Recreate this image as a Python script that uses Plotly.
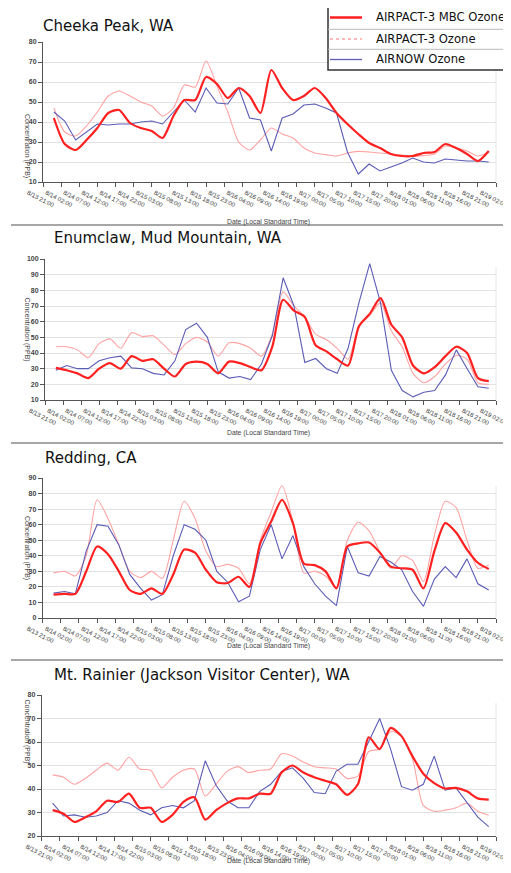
import pandas as pd
import plotly.graph_objects as go

W, H = 511, 873
# the page body keeps its default 8px margin, so the figure is drawn 8px in from the corner
OFF = 8
FW, FH = W - OFF, H - OFF

# hourly model/obs values sampled every 3 hours, 8/14 00:00 .. 8/19 00:00
times = pd.date_range("2012-08-14 00:00", periods=41, freq="3h")

stations = ["Cheeka Peak, WA", "Enumclaw, Mud Mountain, WA", "Redding, CA",
            "Mt. Rainier (Jackson Visitor Center), WA"]

cheeka_mbc = [42, 29, 26, 31, 37, 44.5, 46, 39.5, 37, 35.5, 32, 43, 51, 51, 62.5, 59, 52, 57, 53, 44.5,
              66, 57, 51, 53, 57, 52, 44.5, 39, 34, 29.5, 27, 24, 23, 23, 24.5, 25, 29, 27, 24, 20.5, 25.5]
cheeka_ap3 = [47, 35, 33, 38, 45, 53, 55.5, 53, 50, 48, 43, 47, 58.5, 57.5, 70.5, 58, 45, 30, 26, 31,
              37, 34, 32, 27, 24.5, 23.7, 23, 24.5, 25.3, 25, 24.5, 24, 23.5, 23, 23.2, 24, 28, 27, 25.5, 23, 25]
cheeka_airnow = [45, 40.5, 31, 35, 39, 38.5, 39, 39, 40, 40.5, 39, 45, 51, 45, 57, 49.5, 49, 57, 42, 41,
                 25.5, 42, 44, 48.5, 49, 47, 44.5, 25, 14, 19, 15.5, 17.5, 19.5, 22, 20, 19.5, 21.5, 21, 20.5, 20.5, 20]

enum_mbc = [30.5, 29, 27, 24, 30, 33.5, 30, 38, 35, 36, 30, 25, 33, 34.5, 33, 27, 34.5, 33.5, 31, 29,
            44, 74, 67, 63, 45, 41, 36, 32, 57, 65, 75, 58, 50, 32, 27, 31, 38, 44, 40, 24, 22]
enum_ap3 = [44, 44, 42, 37, 46, 49, 43, 53, 50.5, 51, 45, 39, 46, 50, 47, 38, 46.5, 46, 43, 38,
            52, 79, 70, 63, 52, 48.5, 43, 36, 57, 64, 72, 54, 44, 27, 21, 25, 33, 38.5, 36, 21, 20]
enum_airnow = [29, 32, 30, 30, 35, 37, 38, 30.5, 30, 27, 26, 35, 55, 59, 50, 28, 24, 25, 23, 33,
               51, 88, 70, 34, 36.5, 30, 27, 43, 72, 97, 72, 29, 16, 12, 15, 16, 26, 42, 30, 18.5, 17.5]

redding_mbc = [15, 15.5, 15.5, 30, 46, 41, 30, 18, 15.5, 19, 15.5, 28, 44, 42, 31, 23, 22.5, 26.5, 20, 48,
               62, 76, 61, 35, 34, 30, 19, 46, 48, 48.5, 42, 33, 32, 31, 19, 43, 61, 55, 44, 35.5, 31.5]
redding_ap3 = [29, 30, 27, 40, 76, 64, 47, 30, 26, 30, 25.5, 50, 75, 64, 43, 33, 34.5, 32, 22, 50,
               68, 85, 62, 29, 30, 27, 20, 50, 61.5, 56, 42.5, 32, 40, 37, 23.5, 53, 75, 71, 50, 32, 34]
redding_airnow = [16, 17, 15.5, 43, 60, 59, 47, 28, 19, 11.5, 15, 40, 60, 57, 50, 30, 23, 10.5, 14, 44,
                  60, 38, 53, 33, 22, 14, 8, 46, 29, 27, 39.5, 36, 31, 17, 7.5, 25, 33, 26, 38, 22, 18]

rainier_mbc = [31, 29.5, 26, 28, 30.5, 35, 34.5, 38, 32, 32, 26, 29, 34.5, 36.5, 27, 31, 34, 36, 36, 38,
               38, 47, 50, 47, 45, 43.5, 42, 37.5, 42, 62, 57, 66, 62.5, 54, 46.5, 42.5, 40.2, 40.5, 39, 36, 35.5]
rainier_ap3 = [46, 45, 42, 44.5, 48, 51, 48, 53.5, 48.5, 48, 40.5, 45, 48, 48.5, 37, 42, 47.5, 49.5, 47, 48,
               48.5, 55, 54, 51.5, 49.5, 49, 48.5, 44.5, 45.5, 56, 57, 64.5, 62.5, 53, 33, 30.5, 31, 32, 34, 30.5, 28.8]
rainier_airnow = [34, 28.5, 29, 28, 28.5, 30, 35, 34, 31, 29, 32, 33, 32, 35, 52, 41.5, 35, 32, 32, 39,
                  42, 47.5, 49, 44.5, 38.5, 38, 47.5, 50.5, 50.5, 60, 70, 57, 41, 39.5, 42, 54, 39.5, 40.5, 34, 28, 24]

series = [
    (cheeka_mbc, cheeka_ap3, cheeka_airnow),
    (enum_mbc, enum_ap3, enum_airnow),
    (redding_mbc, redding_ap3, redding_airnow),
    (rainier_mbc, rainier_ap3, rainier_airnow),
]
y_ranges = [(10, 80), (10, 100), (0, 90), (20, 80)]
legend_names = ["AIRPACT-3 MBC Ozone", "AIRPACT-3 Ozone", "AIRNOW Ozone"]

# pixel boxes (page coords) of each plot area: left, right, top, bottom
boxes = [(43, 496, 42, 182), (45, 496, 259, 400), (42.7, 496, 478, 618), (41.7, 496, 695, 836)]
title_pos = [(41, 26), (52, 238), (43, 458), (52, 675)]
xtitle_y = [216, 433, 652, 867]
separators = [(11, 328, 7), (11, 511, 225), (11, 511, 443), (11, 511, 660)]

RED = "#ff2020"
PINK = "#ffa3a3"
BLUE = "#5a5cb6"
AXIS = "#555555"


def px(x):
    return (x - OFF) / FW


def py(y):
    return 1 - (y - OFF) / FH


fig = go.Figure()
annotations = []
shapes = []

for i, (mbc, ap3, airnow) in enumerate(series):
    n = "" if i == 0 else str(i + 1)
    xa, ya = "x" + n, "y" + n
    fig.add_trace(go.Scatter(x=times, y=ap3, xaxis=xa, yaxis=ya, mode="lines",
                             line=dict(color=PINK, width=1.1, shape="spline", smoothing=0.7),
                             showlegend=False))
    fig.add_trace(go.Scatter(x=times, y=airnow, xaxis=xa, yaxis=ya, mode="lines",
                             line=dict(color=BLUE, width=1.1), showlegend=False))
    fig.add_trace(go.Scatter(x=times, y=mbc, xaxis=xa, yaxis=ya, mode="lines",
                             line=dict(color=RED, width=2.2, shape="spline", smoothing=0.7),
                             showlegend=False))

    l, r, t, b = boxes[i]
    fig.layout["xaxis" + n] = dict(
        domain=[px(l), px(r)], anchor=ya, type="date", automargin=False,
        range=["2012-08-13 21:00", "2012-08-19 02:00"],
        tick0="2012-08-13 21:00", dtick=5 * 3600 * 1000,
        tickformat="%-m/%d %H:%M", tickangle=27, ticklabelshift=-15,
        ticks="outside", ticklen=4, tickcolor=AXIS,
        showline=True, linecolor=AXIS, linewidth=1, showgrid=False,
        tickfont=dict(family="Liberation Sans", size=6.2, color="#3a3a3a"),
    )
    fig.layout["yaxis" + n] = dict(
        domain=[py(b), py(t)], anchor=xa, range=list(y_ranges[i]), dtick=10,
        automargin=False,
        ticks="outside", ticklen=4, tickcolor=AXIS,
        showline=True, linecolor=AXIS, linewidth=1,
        showgrid=True, gridcolor="#e2e2e2", zeroline=False,
        tickfont=dict(family="Liberation Sans", size=7, color="#444", weight="bold"),
    )

    tx, ty = title_pos[i]
    annotations.append(dict(text=stations[i], x=px(tx), y=py(ty), xref="paper", yref="paper",
                            xanchor="left", yanchor="middle", showarrow=False,
                            font=dict(family="DejaVu Sans", size=15, color="#111")))
    annotations.append(dict(text="Concentration (PPB)", x=px(21), y=py((t + b) / 2),
                            xref="paper", yref="paper", textangle=90, showarrow=False,
                            font=dict(family="Liberation Sans", size=7, color="#444")))
    annotations.append(dict(text="Date (Local Standard Time)", x=px(268), y=py(xtitle_y[i]),
                            xref="paper", yref="paper", showarrow=False,
                            font=dict(family="Liberation Sans", size=6.8, color="#444")))
    # faint right border of the plot area
    shapes.append(dict(type="line", xref="paper", yref="paper", x0=px(r), x1=px(r),
                       y0=py(b), y1=py(t + 8), line=dict(color="#e6e6e6", width=1)))

for x0, x1, y in separators:
    shapes.append(dict(type="line", xref="paper", yref="paper", x0=px(x0), x1=px(x1),
                       y0=py(y), y1=py(y), line=dict(color="#8a8a8a", width=1.6)))

# legend box drawn by hand (rows separated by thin rules)
shapes.append(dict(type="rect", xref="paper", yref="paper", x0=px(328), x1=px(510),
                   y0=py(70), y1=py(7), line=dict(color="#333", width=1.5), fillcolor="white"))
for y in (29.3, 49.3):
    shapes.append(dict(type="line", xref="paper", yref="paper", x0=px(328), x1=px(510),
                       y0=py(y), y1=py(y), line=dict(color="#bbbbbb", width=1)))
leg_styles = [dict(color=RED, width=2.5), dict(color=PINK, width=1.5, dash="dot"),
              dict(color=BLUE, width=1.3)]
for name, st, y in zip(legend_names, leg_styles, (17.5, 39, 59.5)):
    shapes.append(dict(type="line", xref="paper", yref="paper", x0=px(330), x1=px(362),
                       y0=py(y), y1=py(y), line=st))
    annotations.append(dict(text=name, x=px(374), y=py(y), xref="paper", yref="paper",
                            xanchor="left", yanchor="middle", showarrow=False,
                            font=dict(family="DejaVu Sans", size=11.6, color="#111")))

fig.update_layout(
    width=FW, height=FH,
    margin=dict(l=0, r=0, t=0, b=0),
    paper_bgcolor="white", plot_bgcolor="white",
    showlegend=False,
    annotations=annotations,
    shapes=shapes,
)

fig.write_html("out.html")
